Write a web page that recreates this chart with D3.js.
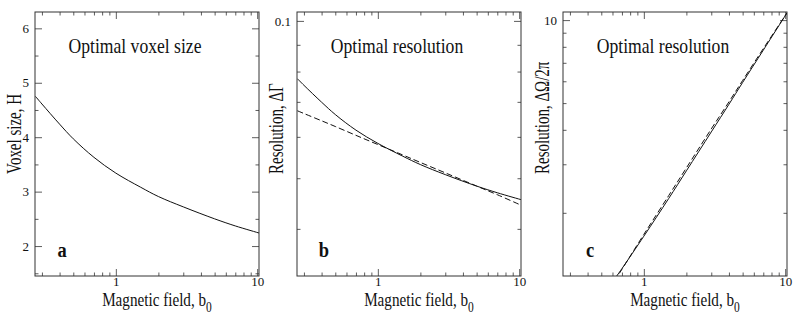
<!DOCTYPE html>
<html>
<head>
<meta charset="utf-8">
<script src="https://cdn.jsdelivr.net/npm/d3@7"></script>
<style>
  body { margin: 0; background: #fff; }
  svg { display: block; }
  text { font-family: "Liberation Serif", "Times New Roman", serif; fill: #111; }
</style>
</head>
<body>
<svg id="chart" width="800" height="318"></svg>
<script>
const bField = [0.27, 0.3, 0.4, 0.5, 0.7, 1, 1.5, 2, 3, 5, 7, 10.3];
// panel a: optimal voxel size H
const voxelSize = [4.75, 4.61, 4.24, 3.97, 3.63, 3.34, 3.08, 2.91, 2.72, 2.50, 2.37, 2.24];
// panel b: resolution dGamma, optimal (solid) and power-law fit (dashed)
const resGamma = [0.0775, 0.0753, 0.0699, 0.0662, 0.0618, 0.0583, 0.0551, 0.0531, 0.0508, 0.0483, 0.0469, 0.0455];
const resGammaFit = [0.0673, 0.0665, 0.0644, 0.0628, 0.0604, 0.0580, 0.0554, 0.0536, 0.0512, 0.0483, 0.0465, 0.0444];
// panel c: resolution dOmega/2pi
const bFieldC = [0.62, 0.7, 1, 1.5, 2, 3, 4, 5, 7, 10.3];
const resOmega = [1.15, 1.255, 1.645, 2.255, 2.84, 3.93, 4.95, 5.94, 7.78, 10.62];
const resOmegaFit = [1.132, 1.248, 1.67, 2.31, 2.91, 4.03, 5.05, 6.04, 7.88, 10.62];

const xMajor = [1, 10];
const xMinor = [0.3, 0.4, 0.5, 0.6, 0.7, 0.8, 0.9, 2, 3, 4, 5, 6, 7, 8, 9];
const yMajorA = [2, 3, 4, 5, 6];
const yMinorA = [1.5, 2.5, 3.5, 4.5, 5.5];
const yMajorB = [0.1];
const yMinorB = [0.04, 0.05, 0.06, 0.07, 0.08, 0.09];
const yMajorC = [10];
const yMinorC = [2, 3, 4, 5, 6, 7, 8, 9];

const svg = d3.select('#chart');
const plotTop = 12, plotBottom = 276, plotW = 224;
const ink = '#333';

// text in the reference is a narrow Times: squeeze along the writing direction
function label (g, x, y, str, size, opts = {}) {
  const rot = opts.rot ? ` rotate(${opts.rot})` : '';
  return g.append('text')
    .attr('transform', `translate(${x},${y})${rot} scale(${opts.sx || 0.88},1)`)
    .attr('font-size', size)
    .attr('text-anchor', opts.anchor || 'middle')
    .attr('font-weight', opts.bold ? 'bold' : null)
    .text(str);
}

function panel (cfg) {
  const x = d3.scaleLog().domain([0.268, 10.3]).range([cfg.left, cfg.left + plotW]);
  const y = (cfg.log ? d3.scaleLog() : d3.scaleLinear()).domain(cfg.yDomain).range([plotBottom, plotTop]);
  const g = svg.append('g');

  const axes = [
    [d3.axisBottom(x), `translate(0,${plotBottom})`, true],
    [d3.axisTop(x), `translate(0,${plotTop})`, false],
    [d3.axisLeft(y), `translate(${cfg.left},0)`, true],
    [d3.axisRight(y), `translate(${cfg.left + plotW},0)`, false]
  ];
  axes.forEach(([ax, tr, withLabels], i) => {
    const horiz = i < 2;
    const major = horiz ? xMajor : cfg.yMajor;
    const minor = horiz ? xMinor : cfg.yMinor;
    g.append('g').attr('transform', tr)
      .call(ax.tickValues(minor).tickSize(-3.5).tickFormat(''))
      .call(s => s.select('.domain').remove())
      .call(s => s.selectAll('line').attr('stroke', ink).attr('stroke-width', 0.8));
    g.append('g').attr('transform', tr)
      .call(ax.tickValues(major).tickSize(-7).tickPadding(horiz ? 1 : 6)
        .tickFormat(withLabels ? (d) => String(d) : ''))
      .attr('font-family', null).attr('font-size', 13)
      .call(s => s.select('.domain').remove())
      .call(s => s.selectAll('line').attr('stroke', ink).attr('stroke-width', 0.8))
      .call(s => s.selectAll('text').attr('fill', '#111'));
  });

  g.append('rect')
    .attr('x', cfg.left).attr('y', plotTop)
    .attr('width', plotW).attr('height', plotBottom - plotTop)
    .attr('fill', 'none').attr('stroke', ink).attr('stroke-width', 1);

  const clipId = 'clip' + cfg.tag;
  g.append('clipPath').attr('id', clipId).append('rect')
    .attr('x', cfg.left).attr('y', plotTop).attr('width', plotW).attr('height', plotBottom - plotTop);

  const line = d3.line().curve(d3.curveCatmullRom.alpha(0.5));
  cfg.series.forEach((s) => {
    g.append('path')
      .attr('clip-path', `url(#${clipId})`)
      .attr('d', line(s.xs.map((b, i) => [x(b), y(s.ys[i])])))
      .attr('fill', 'none')
      .attr('stroke', '#111')
      .attr('stroke-width', 1)
      .attr('stroke-dasharray', s.dash ? '6,3' : null);
  });

  label(g, cfg.left + 100, 53, cfg.title, 20);
  label(g, cfg.left + 27, 257, cfg.tag, 21, { bold: true });
  const xl = label(g, cfg.left + 122, 306, 'Magnetic field, b', 18.5, { sx: 0.82 });
  xl.append('tspan').attr('font-size', 14).attr('dy', 6).text('0');
  label(g, cfg.left - 14, 174, cfg.yTitle, 20, { rot: -90, anchor: 'start', sx: 0.75 });
}

panel({
  tag: 'a', left: 35, log: false, yDomain: [1.45, 6.3],
  yMajor: yMajorA, yMinor: yMinorA,
  title: 'Optimal voxel size', yTitle: 'Voxel size, H',
  series: [{ xs: bField, ys: voxelSize }]
});
panel({
  tag: 'b', left: 297, log: true, yDomain: [0.0325, 0.104],
  yMajor: yMajorB, yMinor: yMinorB,
  title: 'Optimal resolution', yTitle: 'Resolution, \u0394\u0393',
  series: [{ xs: bField, ys: resGamma }, { xs: bField, ys: resGammaFit, dash: true }]
});
panel({
  tag: 'c', left: 563, log: true, yDomain: [1.18, 10.7],
  yMajor: yMajorC, yMinor: yMinorC,
  title: 'Optimal resolution', yTitle: 'Resolution, \u0394\u03A9/2\u03C0',
  series: [{ xs: bFieldC, ys: resOmega }, { xs: bFieldC, ys: resOmegaFit, dash: true }]
});
</script>
</body>
</html>
